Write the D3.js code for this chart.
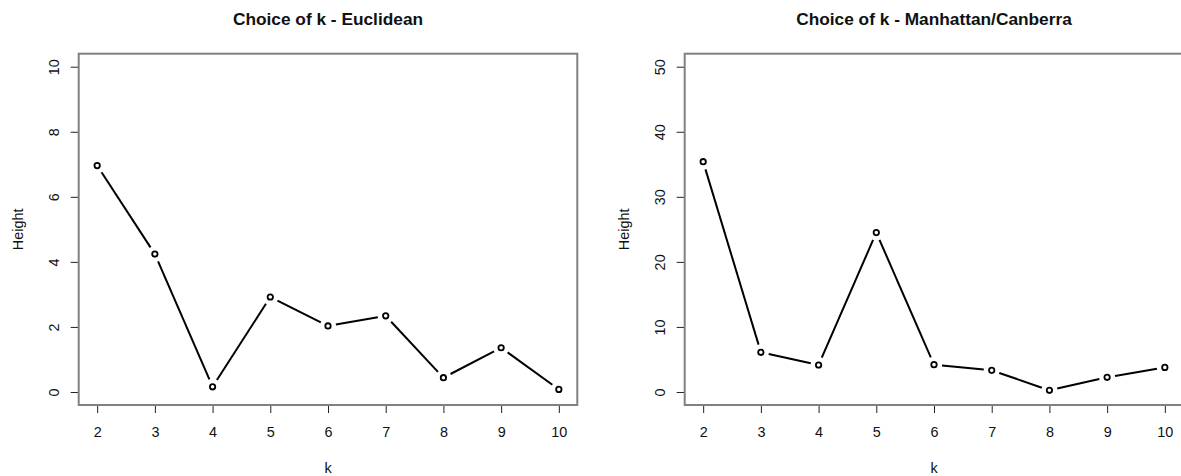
<!DOCTYPE html>
<html>
<head>
<meta charset="utf-8">
<script src="https://cdn.jsdelivr.net/npm/d3@7"></script>
<style>
  html, body { margin: 0; padding: 0; background: #fff; }
  svg { display: block; }
  text { font-family: "Liberation Sans", Arial, sans-serif; fill: #111; }
</style>
</head>
<body>
<svg id="chart" width="1181" height="476"></svg>
<script>
// k values shared by both panels
const kValues = [2, 3, 4, 5, 6, 7, 8, 9, 10];

// merge heights for each choice of k
const euclideanHeights = [6.96, 4.24, 0.16, 2.92, 2.03, 2.34, 0.44, 1.36, 0.08];
const manhattanHeights = [35.4, 6.1, 4.15, 24.5, 4.2, 3.33, 0.26, 2.26, 3.78];

// axis ticks
const xTicks = [2, 3, 4, 5, 6, 7, 8, 9, 10];
const euclideanYTicks = [0, 2, 4, 6, 8, 10];
const manhattanYTicks = [0, 10, 20, 30, 40, 50];

const titles = ["Choice of k - Euclidean", "Choice of k - Manhattan/Canberra"];

const svg = d3.select("#chart");

function drawPanel(opts) {
  const { left, right, top, bottom, ylim, yTicks, values, title, offsetX } = opts;
  const g = svg.append("g");

  // base-graphics style 4% padding on each axis range
  const xpad = (d3.max(kValues) - d3.min(kValues)) * 0.04;
  const ypad = (ylim[1] - ylim[0]) * 0.04;
  const x = d3.scaleLinear()
    .domain([d3.min(kValues) - xpad, d3.max(kValues) + xpad])
    .range([left, right]);
  const y = d3.scaleLinear()
    .domain([ylim[0] - ypad, ylim[1] + ypad])
    .range([bottom, top]);

  // bottom axis
  const xAxis = g.append("g")
    .attr("transform", `translate(0,${bottom})`)
    .call(d3.axisBottom(x).tickValues(xTicks).tickSize(8).tickPadding(0).tickFormat(d3.format("d")));
  xAxis.select(".domain").remove();
  xAxis.selectAll(".tick line").attr("stroke", "#222").attr("stroke-width", 1);
  xAxis.selectAll(".tick text")
    .attr("y", 31.7)
    .attr("dy", null)
    .style("font-size", "14.4px")
    .style("font-family", "'Liberation Sans', Arial, sans-serif")
    .attr("fill", "#111");

  // left axis with rotated labels
  const yAxis = g.append("g")
    .attr("transform", `translate(${left},0)`)
    .call(d3.axisLeft(y).tickValues(yTicks).tickSize(8).tickFormat(d3.format("d")));
  yAxis.select(".domain").remove();
  yAxis.selectAll(".tick line").attr("stroke", "#222").attr("stroke-width", 1);
  yAxis.selectAll(".tick text")
    .attr("x", null)
    .attr("dy", null)
    .attr("text-anchor", "middle")
    .attr("transform", `translate(${-(left - offsetX - 59.3)},0) rotate(-90)`)
    .style("font-size", "14.4px")
    .style("font-family", "'Liberation Sans', Arial, sans-serif")
    .attr("fill", "#111");

  // plot frame
  g.append("rect")
    .attr("x", left)
    .attr("y", top)
    .attr("width", right - left)
    .attr("height", bottom - top)
    .attr("fill", "none")
    .attr("stroke", "#808080")
    .attr("stroke-width", 2);

  // line segments with gaps around each point
  const pts = kValues.map((k, i) => [x(k), y(values[i])]);
  const gap = 8;
  const segs = d3.pairs(pts).map(([a, b]) => {
    const dx = b[0] - a[0], dy = b[1] - a[1];
    const len = Math.hypot(dx, dy);
    const ux = dx / len, uy = dy / len;
    return [[a[0] + ux * gap, a[1] + uy * gap], [b[0] - ux * gap, b[1] - uy * gap]];
  }).filter((s, i) => Math.hypot(pts[i + 1][0] - pts[i][0], pts[i + 1][1] - pts[i][1]) > 2 * gap);

  g.append("g").selectAll("line")
    .data(segs)
    .join("line")
    .attr("x1", d => d[0][0]).attr("y1", d => d[0][1])
    .attr("x2", d => d[1][0]).attr("y2", d => d[1][1])
    .attr("stroke", "#000")
    .attr("stroke-width", 2);

  // open circle markers
  g.append("g").selectAll("circle")
    .data(kValues.map((k, i) => ({ k, v: values[i] })))
    .join("circle")
    .attr("cx", d => x(d.k))
    .attr("cy", d => y(d.v))
    .attr("r", 2.7)
    .attr("fill", "none")
    .attr("stroke", "#000")
    .attr("stroke-width", 1.8);

  // title
  g.append("text")
    .attr("x", (left + right) / 2)
    .attr("y", 25)
    .attr("text-anchor", "middle")
    .style("font-size", "17.3px")
    .style("font-weight", "bold")
    .attr("fill", "#000")
    .text(title);

  // axis titles
  g.append("text")
    .attr("x", (left + right) / 2)
    .attr("y", 473)
    .attr("text-anchor", "middle")
    .style("font-size", "14.4px")
    .text("k");

  g.append("text")
    .attr("transform", `translate(${offsetX + 22.5},${(top + bottom) / 2}) rotate(-90)`)
    .attr("text-anchor", "middle")
    .style("font-size", "14.4px")
    .text("Height");
}

drawPanel({
  left: 78.7, right: 577.3, top: 53.7, bottom: 405,
  ylim: [0, 10], yTicks: euclideanYTicks, values: euclideanHeights,
  title: titles[0], offsetX: 0
});

drawPanel({
  left: 684.7, right: 1183.3, top: 53.7, bottom: 405,
  ylim: [0, 50], yTicks: manhattanYTicks, values: manhattanHeights,
  title: titles[1], offsetX: 606
});
</script>
</body>
</html>
